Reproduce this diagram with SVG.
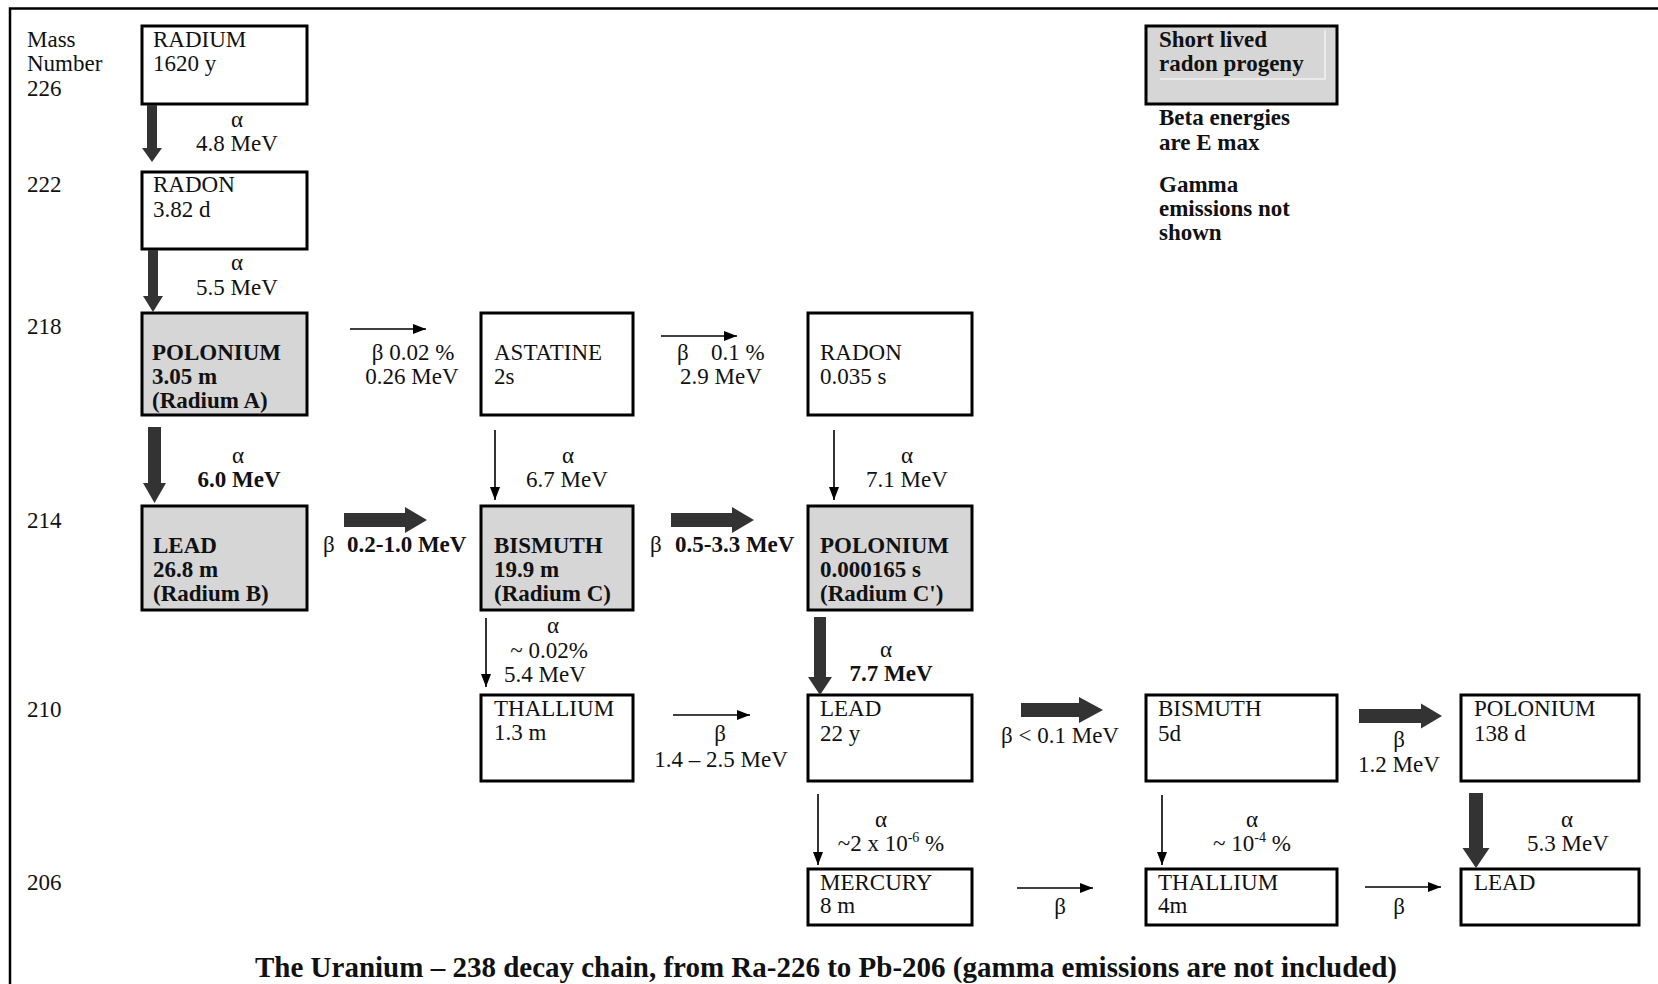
<svg xmlns="http://www.w3.org/2000/svg" width="1658" height="984" viewBox="0 0 1658 984">
<defs>
<style>
text{font-family:"Liberation Serif","Times New Roman",serif;font-size:23px;fill:#111}
.b{font-weight:bold}
.c{text-anchor:middle}
.box{fill:#fff;stroke:#000;stroke-width:3}
.grey{fill:#d6d6d6;stroke:#000;stroke-width:3}
.thick{fill:#333}
.thin{stroke:#000;stroke-width:1.6;fill:none;marker-end:url(#ah)}
.sup{font-size:14px}
</style>
<marker id="ah" markerUnits="userSpaceOnUse" markerWidth="14" markerHeight="10" refX="13" refY="5" orient="auto">
<path d="M0,0 L13,5 L0,10 Z" fill="#000"/>
</marker>
</defs>
<rect width="1658" height="984" fill="#fff"/>
<path d="M10,984 V8.5 H1658" fill="none" stroke="#000" stroke-width="2.5"/>

<g id="mass-numbers">
<text x="27" y="47">Mass</text>
<text x="27" y="71">Number</text>
<text x="27" y="96">226</text>
<text x="27" y="192">222</text>
<text x="27" y="334">218</text>
<text x="27" y="528">214</text>
<text x="27" y="717">210</text>
<text x="27" y="890">206</text>
</g>

<g id="legend">
<rect class="grey" x="1146" y="26" width="191" height="78"/>
<polyline points="1160,79 1325,79 1325,30" fill="none" stroke="#f2f2f2" stroke-width="1.5"/>
<text class="b" x="1159" y="47">Short lived</text>
<text class="b" x="1159" y="71">radon progeny</text>
<text class="b" x="1159" y="125">Beta energies</text>
<text class="b" x="1159" y="150">are E max</text>
<text class="b" x="1159" y="192">Gamma</text>
<text class="b" x="1159" y="216">emissions not</text>
<text class="b" x="1159" y="240">shown</text>
</g>

<g id="ra226">
<rect class="box" x="142" y="26" width="165" height="78"/>
<text x="153" y="47">RADIUM</text>
<text x="153" y="71">1620 y</text>
</g>
<g id="rn222">
<rect class="box" x="142" y="172" width="165" height="77"/>
<text x="153" y="192">RADON</text>
<text x="153" y="217">3.82 d</text>
</g>
<g id="po218">
<rect class="grey" x="142" y="313" width="165" height="102"/>
<text class="b" x="152" y="360">POLONIUM</text>
<text class="b" x="152" y="384">3.05 m</text>
<text class="b" x="152" y="408">(Radium A)</text>
</g>
<g id="at218">
<rect class="box" x="481" y="313" width="152" height="102"/>
<text x="494" y="360">ASTATINE</text>
<text x="494" y="384">2s</text>
</g>
<g id="rn218">
<rect class="box" x="808" y="313" width="164" height="102"/>
<text x="820" y="360">RADON</text>
<text x="820" y="384">0.035 s</text>
</g>
<g id="pb214">
<rect class="grey" x="142" y="506" width="165" height="104"/>
<text class="b" x="153" y="553">LEAD</text>
<text class="b" x="153" y="577">26.8 m</text>
<text class="b" x="153" y="601">(Radium B)</text>
</g>
<g id="bi214">
<rect class="grey" x="481" y="506" width="152" height="104"/>
<text class="b" x="494" y="553">BISMUTH</text>
<text class="b" x="494" y="577">19.9 m</text>
<text class="b" x="494" y="601">(Radium C)</text>
</g>
<g id="po214">
<rect class="grey" x="808" y="506" width="164" height="104"/>
<text class="b" x="820" y="553">POLONIUM</text>
<text class="b" x="820" y="577">0.000165 s</text>
<text class="b" x="820" y="601">(Radium C')</text>
</g>
<g id="tl210">
<rect class="box" x="481" y="695" width="152" height="86"/>
<text x="494" y="716">THALLIUM</text>
<text x="494" y="740">1.3 m</text>
</g>
<g id="pb210">
<rect class="box" x="808" y="695" width="164" height="86"/>
<text x="820" y="716">LEAD</text>
<text x="820" y="741">22 y</text>
</g>
<g id="bi210">
<rect class="box" x="1146" y="695" width="191" height="86"/>
<text x="1158" y="716">BISMUTH</text>
<text x="1158" y="741">5d</text>
</g>
<g id="po210">
<rect class="box" x="1461" y="695" width="178" height="86"/>
<text x="1474" y="716">POLONIUM</text>
<text x="1474" y="741">138 d</text>
</g>
<g id="hg206">
<rect class="box" x="808" y="869" width="164" height="56"/>
<text x="820" y="890">MERCURY</text>
<text x="820" y="913">8 m</text>
</g>
<g id="tl206">
<rect class="box" x="1146" y="869" width="191" height="56"/>
<text x="1158" y="890">THALLIUM</text>
<text x="1158" y="913">4m</text>
</g>
<g id="pb206">
<rect class="box" x="1461" y="869" width="178" height="56"/>
<text x="1474" y="890">LEAD</text>
</g>

<g id="connectors">
<g id="ra-rn">
<path class="thick" d="M147,105 H157 V148 H162 L152,162 L142,148 H147 Z"/>
<text class="c" x="237" y="127">α</text>
<text class="c" x="237" y="151">4.8 MeV</text>
</g>
<g id="rn-po">
<path class="thick" d="M148,250 H158 V296 H163 L153,312 L143,296 H148 Z"/>
<text class="c" x="237" y="270">α</text>
<text class="c" x="237" y="295">5.5 MeV</text>
</g>
<g id="po218-pb214">
<path class="thick" d="M148,427 H161 V483 H166 L154.5,503 L143,483 H148 Z"/>
<text class="c" x="238" y="463">α</text>
<text class="c b" x="239" y="487">6.0 MeV</text>
</g>
<g id="po218-at218">
<line class="thin" x1="350" y1="329" x2="426" y2="329"/>
<text class="c" x="413" y="360">β 0.02 %</text>
<text class="c" x="412" y="384">0.26 MeV</text>
</g>
<g id="at218-rn218">
<line class="thin" x1="661" y1="336" x2="737" y2="336"/>
<text x="677" y="360">β</text>
<text x="711" y="360">0.1 %</text>
<text class="c" x="721" y="384">2.9 MeV</text>
</g>
<g id="at218-bi214">
<line class="thin" x1="495" y1="430" x2="495" y2="500"/>
<text class="c" x="568" y="463">α</text>
<text class="c" x="567" y="487">6.7 MeV</text>
</g>
<g id="rn218-po214">
<line class="thin" x1="834" y1="430" x2="834" y2="500"/>
<text class="c" x="907" y="463">α</text>
<text class="c" x="907" y="487">7.1 MeV</text>
</g>
<g id="pb214-bi214">
<path class="thick" d="M344,513 V527 H405 V533 L427,520 L405,507 V513 Z"/>
<text x="323" y="552">β</text>
<text class="b" x="347" y="552">0.2-1.0 MeV</text>
</g>
<g id="bi214-po214">
<path class="thick" d="M671,513 V527 H732 V533 L754,520 L732,507 V513 Z"/>
<text x="650" y="552">β</text>
<text class="b" x="675" y="552">0.5-3.3 MeV</text>
</g>
<g id="bi214-tl210">
<line class="thin" x1="486" y1="618" x2="486" y2="687"/>
<text class="c" x="553" y="633">α</text>
<text class="c" x="549" y="658">~ 0.02%</text>
<text class="c" x="545" y="682">5.4 MeV</text>
</g>
<g id="po214-pb210">
<path class="thick" d="M814,617 H826 V677 H832 L820,695 L808,677 H814 Z"/>
<text class="c" x="886" y="657">α</text>
<text class="c b" x="891" y="681">7.7 MeV</text>
</g>
<g id="tl210-pb210">
<line class="thin" x1="673" y1="715" x2="750" y2="715"/>
<text class="c" x="720" y="741">β</text>
<text class="c" x="721" y="767">1.4 – 2.5 MeV</text>
</g>
<g id="pb210-bi210">
<path class="thick" d="M1021,703 V717 H1079 V723 L1103,710 L1079,697 V703 Z"/>
<text class="c" x="1060" y="743">β &lt; 0.1 MeV</text>
</g>
<g id="bi210-po210">
<path class="thick" d="M1359,709 V723 H1421 V728.5 L1442,716 L1421,703.5 V709 Z"/>
<text class="c" x="1399" y="747">β</text>
<text class="c" x="1399" y="772">1.2 MeV</text>
</g>
<g id="pb210-hg206">
<line class="thin" x1="818" y1="794" x2="818" y2="865"/>
<text class="c" x="881" y="827">α</text>
<text class="c" x="891" y="851">~2 x 10<tspan class="sup" dy="-9">-6</tspan><tspan dy="9"> %</tspan></text>
</g>
<g id="bi210-tl206">
<line class="thin" x1="1162" y1="795" x2="1162" y2="865"/>
<text class="c" x="1252" y="827">α</text>
<text class="c" x="1252" y="851">~ 10<tspan class="sup" dy="-9">-4</tspan><tspan dy="9"> %</tspan></text>
</g>
<g id="po210-pb206">
<path class="thick" d="M1469,793 H1483 V848 H1489.5 L1476,868 L1462.5,848 H1469 Z"/>
<text class="c" x="1567" y="827">α</text>
<text class="c" x="1568" y="851">5.3 MeV</text>
</g>
<g id="hg206-tl206">
<line class="thin" x1="1017" y1="888" x2="1093" y2="888"/>
<text class="c" x="1060" y="914">β</text>
</g>
<g id="tl206-pb206">
<line class="thin" x1="1365" y1="887" x2="1441" y2="887"/>
<text class="c" x="1399" y="914">β</text>
</g>
</g>

<g id="title">
<text class="b c" x="826" y="977" style="font-size:29px">The Uranium – 238 decay chain, from Ra-226 to Pb-206 (gamma emissions are not included)</text>
</g>
</svg>
